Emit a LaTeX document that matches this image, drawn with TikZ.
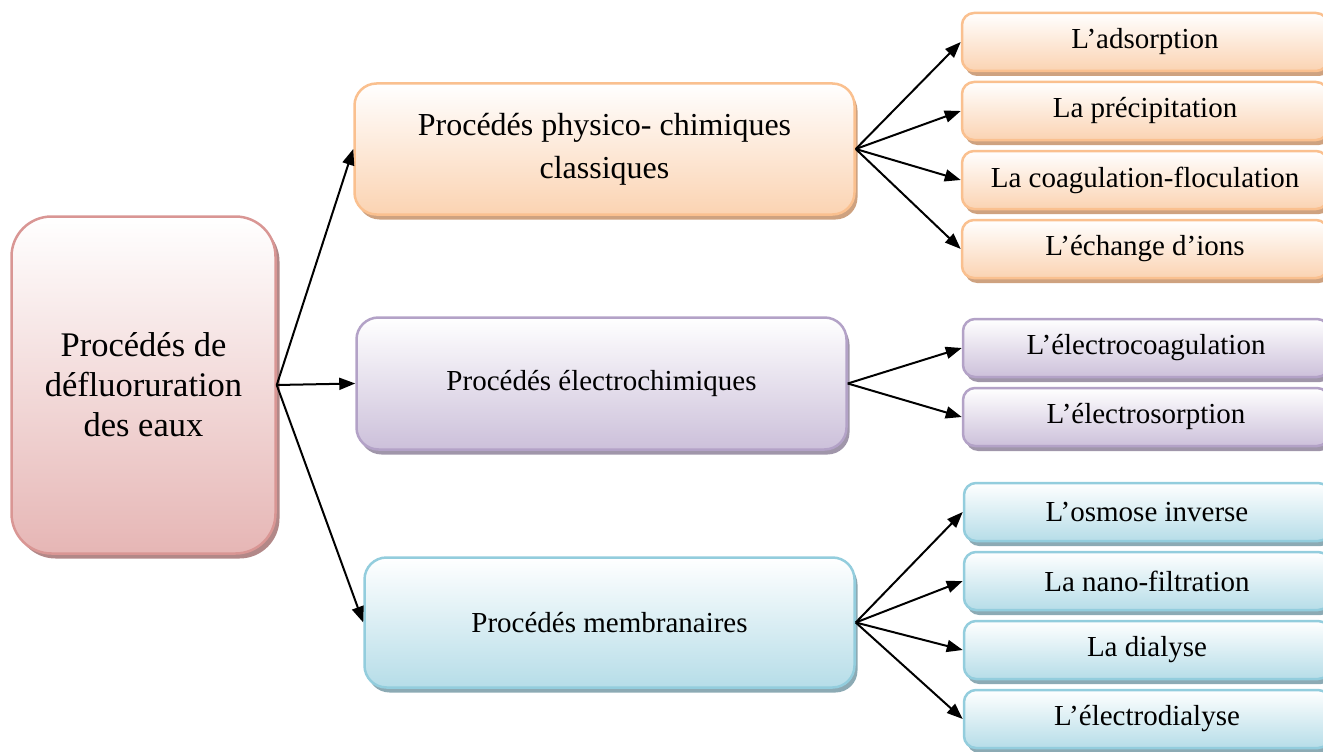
\documentclass[tikz,border=0pt]{standalone}
\usepackage{fontspec}
\setmainfont{Liberation Serif}
\usetikzlibrary{arrows.meta, positioning, shadows}

\definecolor{rootline}{RGB}{217,150,148}
\definecolor{rootfill}{RGB}{230,182,181}
\definecolor{rootshade}{RGB}{178,136,136}
\definecolor{orline}{RGB}{250,192,143}
\definecolor{orfill}{RGB}{251,211,178}
\definecolor{orshade}{RGB}{206,162,128}
\definecolor{violine}{RGB}{179,162,199}
\definecolor{viofill}{RGB}{204,192,218}
\definecolor{vioshade}{RGB}{160,150,170}
\definecolor{blueline}{RGB}{147,205,221}
\definecolor{bluefill}{RGB}{182,221,232}
\definecolor{blueshade}{RGB}{140,170,180}

\begin{document}
\begin{tikzpicture}[x=1pt, y=-1pt,
    box/.style={draw, line width=2.5pt, rounded corners=22pt, align=center, inner sep=0pt, top color=white},
    pinkbox/.style={draw=rootline, bottom color=rootfill, drop shadow={shadow xshift=4pt, shadow yshift=-5pt, fill=rootshade, opacity=1}},
    orbox/.style={draw=orline, bottom color=orfill, drop shadow={shadow xshift=3pt, shadow yshift=-5pt, fill=orshade, opacity=1}},
    viobox/.style={draw=violine, bottom color=viofill, drop shadow={shadow xshift=3pt, shadow yshift=-5pt, fill=vioshade, opacity=1}},
    bluebox/.style={draw=blueline, bottom color=bluefill, drop shadow={shadow xshift=3pt, shadow yshift=-5pt, fill=blueshade, opacity=1}},
    leaf/.style={box, rounded corners=12pt, minimum width=366pt, minimum height=58pt, font=\fontsize{29}{33}\selectfont},
    link/.style={-{Triangle[length=16pt, width=12pt]}, line width=2pt}]
    \useasboundingbox (0,0) rectangle (1323,752);

    % root and the three families
    \node[box, pinkbox, rounded corners=40pt, minimum width=264pt, minimum height=337pt, font=\fontsize{34.5}{40}\selectfont] (root) at (143.5,385) {Procédés de\\défluoruration\\des eaux};
    \node[box, orbox, minimum width=500pt, minimum height=131pt, font=\fontsize{32}{43}\selectfont] (phys) at (604.5,149) {Procédés physico- chimiques\\classiques};
    \node[box, viobox, minimum width=490pt, minimum height=132pt, font=\fontsize{29}{33}\selectfont] (elec) at (601.5,383.5) {Procédés électrochimiques};
    \node[box, bluebox, minimum width=490pt, minimum height=130pt, font=\fontsize{29}{33}\selectfont] (memb) at (609.5,622.5) {Procédés membranaires};

    % leaves
    \node[leaf, orbox] (ads) at (1145,42) {L’adsorption};
    \node[leaf, orbox, below=8.5pt of ads] (prec) {La précipitation};
    \node[leaf, orbox, below=8.5pt of prec] (coag) {La coagulation-floculation};
    \node[leaf, orbox, below=8.5pt of coag] (ions) {L’échange d’ions};

    \node[leaf, viobox] (ecoag) at (1146,348) {L’électrocoagulation};
    \node[leaf, viobox, below=8.5pt of ecoag] (esorp) {L’électrosorption};

    \node[leaf, bluebox] (osmo) at (1147,512) {L’osmose inverse};
    \node[leaf, bluebox, below=8.5pt of osmo] (nano) {La nano-filtration};
    \node[leaf, bluebox, below=8.5pt of nano] (dial) {La dialyse};
    \node[leaf, bluebox, below=8.5pt of dial] (edial) {L’électrodialyse};

    % connectors
    \draw[link] (root.east) -- (phys.west);
    \draw[link] (root.east) -- (elec.west);
    \draw[link] (root.east) -- (memb.west);

    \draw[link] (phys.east) -- (ads.west);
    \draw[link] (phys.east) -- (prec.west);
    \draw[link] (phys.east) -- (coag.west);
    \draw[link] (phys.east) -- (ions.west);

    \draw[link] (elec.east) -- (ecoag.west);
    \draw[link] (elec.east) -- (esorp.west);

    \draw[link] (memb.east) -- (osmo.west);
    \draw[link] (memb.east) -- (nano.west);
    \draw[link] (memb.east) -- (dial.west);
    \draw[link] (memb.east) -- (edial.west);
\end{tikzpicture}
\end{document}
